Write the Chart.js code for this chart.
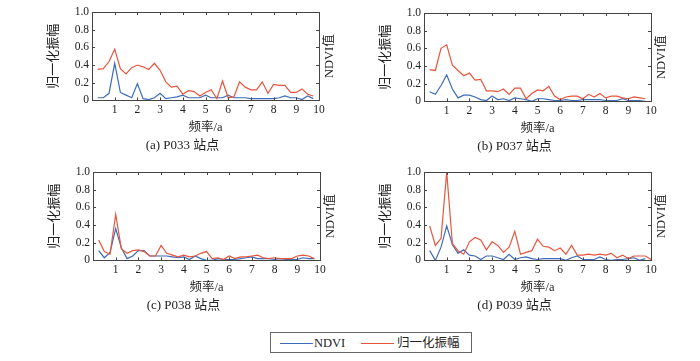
<!DOCTYPE html>
<html>
<head>
<meta charset="utf-8">
<script src="https://cdn.jsdelivr.net/npm/chart.js@4.4.1/dist/chart.umd.min.js"></script>
<style>
  html, body { margin:0; padding:0; background:#fff; }
  #wrap { position:relative; width:700px; height:361px; overflow:hidden; }
  canvas { position:absolute; }
  #legend { position:absolute; left:270px; top:332px; width:202px; height:21px; border:1px solid #666; box-sizing:border-box;
    font-family:'Liberation Serif','Noto Sans CJK SC',serif; font-size:12.5px; color:#222; }
  #legend .sw { position:absolute; top:10px; height:0; border-top:1.2px solid; width:33px; }
  #legend .tx { position:absolute; top:2px; line-height:16px; white-space:nowrap; }
</style>
</head>
<body>
<div id="wrap">
  <canvas id="ca" width="350" height="160" style="left:0px;top:0px"></canvas>
  <canvas id="cb" width="350" height="160" style="left:332px;top:1px"></canvas>
  <canvas id="cc" width="350" height="160" style="left:1px;top:160px"></canvas>
  <canvas id="cd" width="350" height="160" style="left:332px;top:160px"></canvas>
  <div id="legend">
    <div class="sw" style="left:9px;border-color:#3d6cb9"></div>
    <div class="tx" style="left:43px">NDVI</div>
    <div class="sw" style="left:90px;border-color:#e8553d"></div>
    <div class="tx" style="left:126px">归一化振幅</div>
  </div>
</div>
<script>
// Frequency (1/a) of each spectral point
const FREQ = [0.25,0.5,0.75,1.0,1.25,1.5,1.75,2.0,2.25,2.5,2.75,3.0,3.25,3.5,3.75,4.0,4.25,4.5,4.75,5.0,
              5.25,5.5,5.75,6.0,6.25,6.5,6.75,7.0,7.25,7.5,7.75,8.0,8.25,8.5,8.75,9.0,9.25,9.5,9.75,10.0];
const X_TICKS = [0,1,2,3,4,5,6,7,8,9,10];
const Y_TICKS = [0,0.2,0.4,0.6,0.8,1.0];
const CAPTIONS = ['(a) P033 站点','(b) P037 站点','(c) P038 站点','(d) P039 站点'];

// (a) P033
const ampA  = [0.35,0.36,0.44,0.58,0.36,0.30,0.37,0.40,0.38,0.35,0.42,0.34,0.21,0.15,0.16,0.07,0.11,0.10,0.05,0.09,
               0.12,0.02,0.22,0.03,0.04,0.21,0.15,0.12,0.12,0.21,0.08,0.18,0.17,0.17,0.09,0.09,0.13,0.07,0.05];
const ndviA = [0.03,0.03,0.08,0.42,0.09,0.06,0.03,0.19,0.02,0.01,0.03,0.08,0.02,0.03,0.04,0.06,0.03,0.03,0.03,0.06,
               0.03,0.03,0.03,0.06,0.03,0.03,0.03,0.02,0.02,0.02,0.02,0.02,0.03,0.05,0.03,0.03,0.01,0.05,0.02];
// (b) P037
const ampB  = [0.36,0.35,0.60,0.64,0.41,0.35,0.29,0.32,0.24,0.25,0.12,0.12,0.11,0.14,0.08,0.15,0.15,0.03,0.09,0.13,
               0.12,0.17,0.06,0.02,0.05,0.06,0.06,0.03,0.08,0.05,0.09,0.04,0.06,0.06,0.04,0.03,0.05,0.04,0.03];
const ndviB = [0.11,0.08,0.18,0.30,0.14,0.04,0.07,0.07,0.05,0.02,0.01,0.06,0.02,0.03,0.01,0.04,0.03,0.02,0.00,0.03,
               0.03,0.02,0.01,0.01,0.02,0.01,0.01,0.02,0.02,0.02,0.02,0.01,0.01,0.01,0.03,0.01,0.01,0.01,0.00];
// (c) P038
const ampC  = [0.23,0.10,0.07,0.52,0.13,0.08,0.11,0.12,0.10,0.05,0.05,0.17,0.08,0.06,0.04,0.06,0.04,0.05,0.08,0.10,
               0.02,0.03,0.01,0.05,0.02,0.04,0.04,0.05,0.06,0.03,0.02,0.03,0.02,0.02,0.02,0.05,0.06,0.05,0.02];
const ndviC = [0.11,0.03,0.09,0.36,0.14,0.02,0.05,0.11,0.11,0.05,0.05,0.05,0.05,0.04,0.03,0.04,0.01,0.05,0.02,0.00,
               0.00,0.02,0.01,0.01,0.01,0.02,0.03,0.04,0.02,0.02,0.02,0.01,0.02,0.01,0.01,0.01,0.03,0.02,0.02];
// (d) P039
const ampD  = [0.39,0.17,0.25,1.00,0.19,0.11,0.07,0.21,0.26,0.23,0.12,0.21,0.17,0.09,0.15,0.33,0.07,0.09,0.11,0.24,
               0.16,0.15,0.11,0.14,0.07,0.17,0.06,0.06,0.07,0.06,0.07,0.06,0.08,0.03,0.06,0.02,0.05,0.05,0.05,0.01];
const ndviD = [0.11,0.00,0.15,0.39,0.18,0.08,0.12,0.06,0.05,0.01,0.05,0.05,0.03,0.01,0.07,0.01,0.03,0.04,0.02,0.01,
               0.02,0.02,0.02,0.02,0.00,0.03,0.05,0.01,0.01,0.01,0.04,0.01,0.00,0.01,0.01,0.02,0.03,0.00,0.02];

const BLUE = '#3d6cb9', RED = '#e8553d', INK = '#222';
const SERIF = "'Liberation Serif','Noto Sans CJK SC',serif";

const framePlugin = {
  id: 'frame',
  afterDraw(chart) {
    const {ctx, chartArea: a, scales} = chart;
    ctx.save();
    ctx.strokeStyle = '#444';
    ctx.lineWidth = 1;
    ctx.strokeRect(Math.round(a.left)+0.5, Math.round(a.top)+0.5, Math.round(a.right-a.left), Math.round(a.bottom-a.top));
    ctx.beginPath();
    const tl = 3;
    X_TICKS.slice(1,-1).forEach(v => {
      const x = Math.round(scales.x.getPixelForValue(v)) + 0.5;
      ctx.moveTo(x, a.top); ctx.lineTo(x, a.top + tl);
      ctx.moveTo(x, a.bottom); ctx.lineTo(x, a.bottom - tl);
    });
    Y_TICKS.slice(1,-1).forEach(v => {
      const y = Math.round(scales.y.getPixelForValue(v)) + 0.5;
      ctx.moveTo(a.left, y); ctx.lineTo(a.left + tl, y);
      ctx.moveTo(a.right, y); ctx.lineTo(a.right - tl, y);
    });
    ctx.stroke();
    // right-hand axis title
    ctx.translate(a.right + 11, (a.top + a.bottom) / 2);
    ctx.rotate(-Math.PI / 2);
    ctx.fillStyle = INK;
    ctx.font = "12.5px " + SERIF;
    ctx.textAlign = 'center';
    ctx.textBaseline = 'middle';
    ctx.fillText('NDVI值', 0, 0);
    ctx.restore();
  }
};

function pts(vals) { return vals.map((v, i) => ({x: FREQ[i], y: v})); }

function makeChart(id, amp, ndvi, caption) {
  new Chart(document.getElementById(id), {
    type: 'line',
    data: {
      datasets: [
        {label: '归一化振幅', data: pts(amp), borderColor: RED, borderWidth: 1.2, pointRadius: 0, tension: 0, fill: false},
        {label: 'NDVI', data: pts(ndvi), borderColor: BLUE, borderWidth: 1.2, pointRadius: 0, tension: 0, fill: false}
      ]
    },
    options: {
      responsive: false, animation: false, devicePixelRatio: 1,
      layout: {padding: {left: 46, top: 12, right: 31, bottom: 7}},
      plugins: {
        legend: {display: false}, tooltip: {enabled: false},
        title: {display: true, position: 'bottom', text: caption, color: INK,
                font: {family: SERIF, size: 13, weight: 'normal'}, padding: {top: 0, bottom: 0}}
      },
      scales: {
        x: {
          type: 'linear', min: 0, max: 10,
          afterBuildTicks: s => { s.ticks = X_TICKS.map(v => ({value: v})); },
          ticks: {callback: v => v === 0 ? '' : String(v), color: INK, font: {family: SERIF, size: 11.5},
                  padding: 3, maxRotation: 0, autoSkip: false},
          grid: {display: false, drawTicks: false}, border: {display: false},
          title: {display: true, text: '频率/a', color: INK, font: {family: SERIF, size: 12.5},
                  padding: {top: 0, bottom: 2}},
          afterFit: s => { s.height = 37; }
        },
        y: {
          min: 0, max: 1,
          afterBuildTicks: s => { s.ticks = Y_TICKS.map(v => ({value: v})); },
          ticks: {callback: v => v === 0 ? '0' : v.toFixed(1), color: INK, font: {family: SERIF, size: 11.5}, padding: 3},
          grid: {display: false, drawTicks: false}, border: {display: false},
          title: {display: true, text: '归一化振幅', color: INK, font: {family: SERIF, size: 13},
                  padding: {top: 0, bottom: 0}},
          afterFit: s => { s.width = 46; }
        }
      }
    },
    plugins: [framePlugin]
  });
}

makeChart('ca', ampA, ndviA, CAPTIONS[0]);
makeChart('cb', ampB, ndviB, CAPTIONS[1]);
makeChart('cc', ampC, ndviC, CAPTIONS[2]);
makeChart('cd', ampD, ndviD, CAPTIONS[3]);
</script>
</body>
</html>
